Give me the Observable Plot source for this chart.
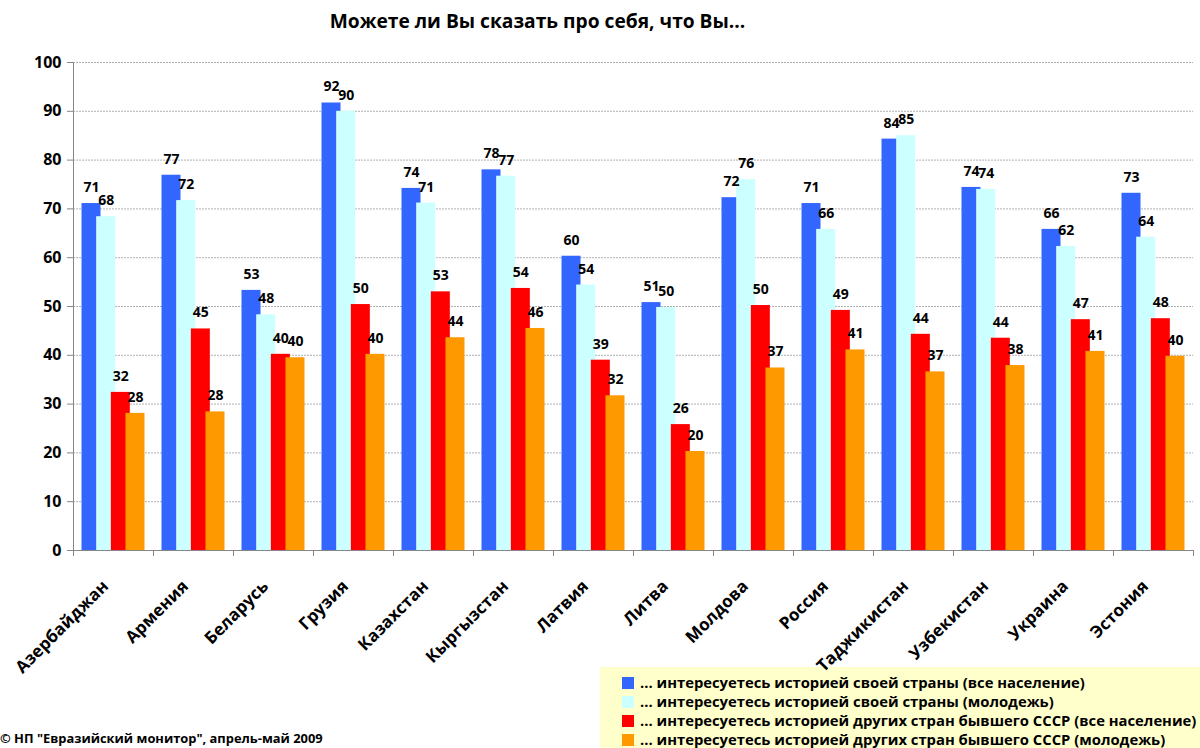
<!DOCTYPE html>
<html><head><meta charset="utf-8">
<script src="https://cdn.jsdelivr.net/npm/d3@7"></script>
<script src="https://cdn.jsdelivr.net/npm/@observablehq/plot@0.6"></script>
<style>
body{margin:0;background:#fff;font-family:"Open Sans",sans-serif;}
#wrap{position:relative;width:1200px;height:748px;overflow:hidden;}
#title{position:absolute;left:0;top:7px;width:1075px;text-align:center;font-weight:bold;font-size:19.2px;color:#000;z-index:3;}
#chart{position:absolute;left:0;top:0;z-index:2;}
#legend{position:absolute;left:600px;top:667px;width:600px;height:90px;background:#ffffcc;z-index:1;}
.li{position:absolute;left:22px;font-weight:bold;font-size:14.8px;white-space:nowrap;color:#000;line-height:19px;}
.sw{display:inline-block;width:12px;height:12px;margin-right:6px;vertical-align:-1px;}
#caption{position:absolute;left:0;top:729px;font-weight:bold;font-size:12.9px;white-space:nowrap;z-index:3;}
</style></head>
<body>
<div id="wrap">
<div id="legend"></div>
<div id="chart"></div>
<div id="title">Можете ли Вы сказать про себя, что Вы...</div>
<div id="caption">© НП "Евразийский монитор", апрель-май 2009</div>
</div>
<script>
const countries = ["Азербайджан","Армения","Беларусь","Грузия","Казахстан","Кыргызстан","Латвия","Литва","Молдова","Россия","Таджикистан","Узбекистан","Украина","Эстония"];
const seriesNames = [
  "... интересуетесь историей своей страны (все население)",
  "... интересуетесь историей своей страны (молодежь)",
  "... интересуетесь историей других стран бывшего СССР (все население)",
  "... интересуетесь историей других стран бывшего СССР (молодежь)"
];
const seriesColors = ["#3366ff","#ccffff","#ff0000","#ff9900"];
const ownAll    = [71.1, 76.9, 53.3, 91.7, 74.2, 78.0, 60.3, 50.8, 72.3, 71.1, 84.3, 74.4, 65.8, 73.2];
const ownYouth  = [68.4, 71.7, 48.3, 90.0, 71.2, 76.7, 54.4, 49.8, 76.0, 65.8, 85.0, 74.0, 62.3, 64.2];
const otherAll  = [32.4, 45.4, 40.2, 50.4, 53.0, 53.7, 39.0, 25.8, 50.2, 49.2, 44.3, 43.5, 47.3, 47.5];
const otherYouth= [28.1, 28.4, 39.5, 40.2, 43.6, 45.5, 31.7, 20.3, 37.4, 41.1, 36.6, 37.9, 40.8, 39.8];
const yTicks = [0,10,20,30,40,50,60,70,80,90,100];

const seriesValues = [ownAll, ownYouth, otherAll, otherYouth];
const rows = countries.flatMap((c, ci) => seriesValues.map((vals, si) => ({country: c, ci, si, series: seriesNames[si], value: vals[ci]})));

const barW = 0.2375, barStep = 0.1833;
const x1 = d => d.ci + 0.5 + (d.si - 1.5) * barStep - barW / 2;
const x2 = d => x1(d) + barW;
const xc = d => d.ci + 0.5 + (d.si - 1.5) * barStep;

const chart = Plot.plot({
  width: 1200, height: 748,
  marginLeft: 73, marginRight: 7, marginTop: 62, marginBottom: 198,
  style: {fontFamily: '"Open Sans", sans-serif', background: "transparent", overflow: "visible"},
  x: {domain: [0, countries.length], axis: null},
  y: {domain: [0, 100], axis: null},
  color: {domain: seriesNames, range: seriesColors},
  marks: [
    Plot.gridY(yTicks.filter(v => v > 0), {stroke: "#b0b0b0", strokeOpacity: 1, strokeDasharray: "2,1"}),
    Plot.rectY(rows, {x1, x2, y1: 0, y2: "value", fill: "series"}),
    Plot.text(rows, {x: xc, y: "value", text: d => String(Math.round(d.value)), dy: -16, fontSize: 14, fontWeight: "bold", fill: "#000"}),
    Plot.ruleY([0], {stroke: "#868686"}),
    Plot.ruleX([0], {stroke: "#868686"}),
    Plot.axisY(yTicks, {label: null, tickSize: 6, tickPadding: 6, fontSize: 16, fontWeight: "bold", stroke: "#868686", fill: "#000"}),
    Plot.axisX(d3.range(countries.length + 1), {label: null, tickSize: 6, tickFormat: () => "", stroke: "#868686"}),
    Plot.text(countries, {x: (d, i) => i + 0.5, frameAnchor: "bottom", text: d => d, rotate: -45, textAnchor: "end", lineAnchor: "middle", dy: 33, dx: -8, fontSize: 17, fontWeight: "bold", fill: "#000"})
  ]
});
document.getElementById("chart").appendChild(chart);

const legend = document.getElementById("legend");
seriesNames.forEach((name, i) => {
  const div = document.createElement("div");
  div.className = "li";
  div.style.top = (6 + i * 19) + "px";
  div.innerHTML = `<span class="sw" style="background:${seriesColors[i]}"></span>`;
  div.appendChild(document.createTextNode(name));
  legend.appendChild(div);
});
</script>
</body></html>
